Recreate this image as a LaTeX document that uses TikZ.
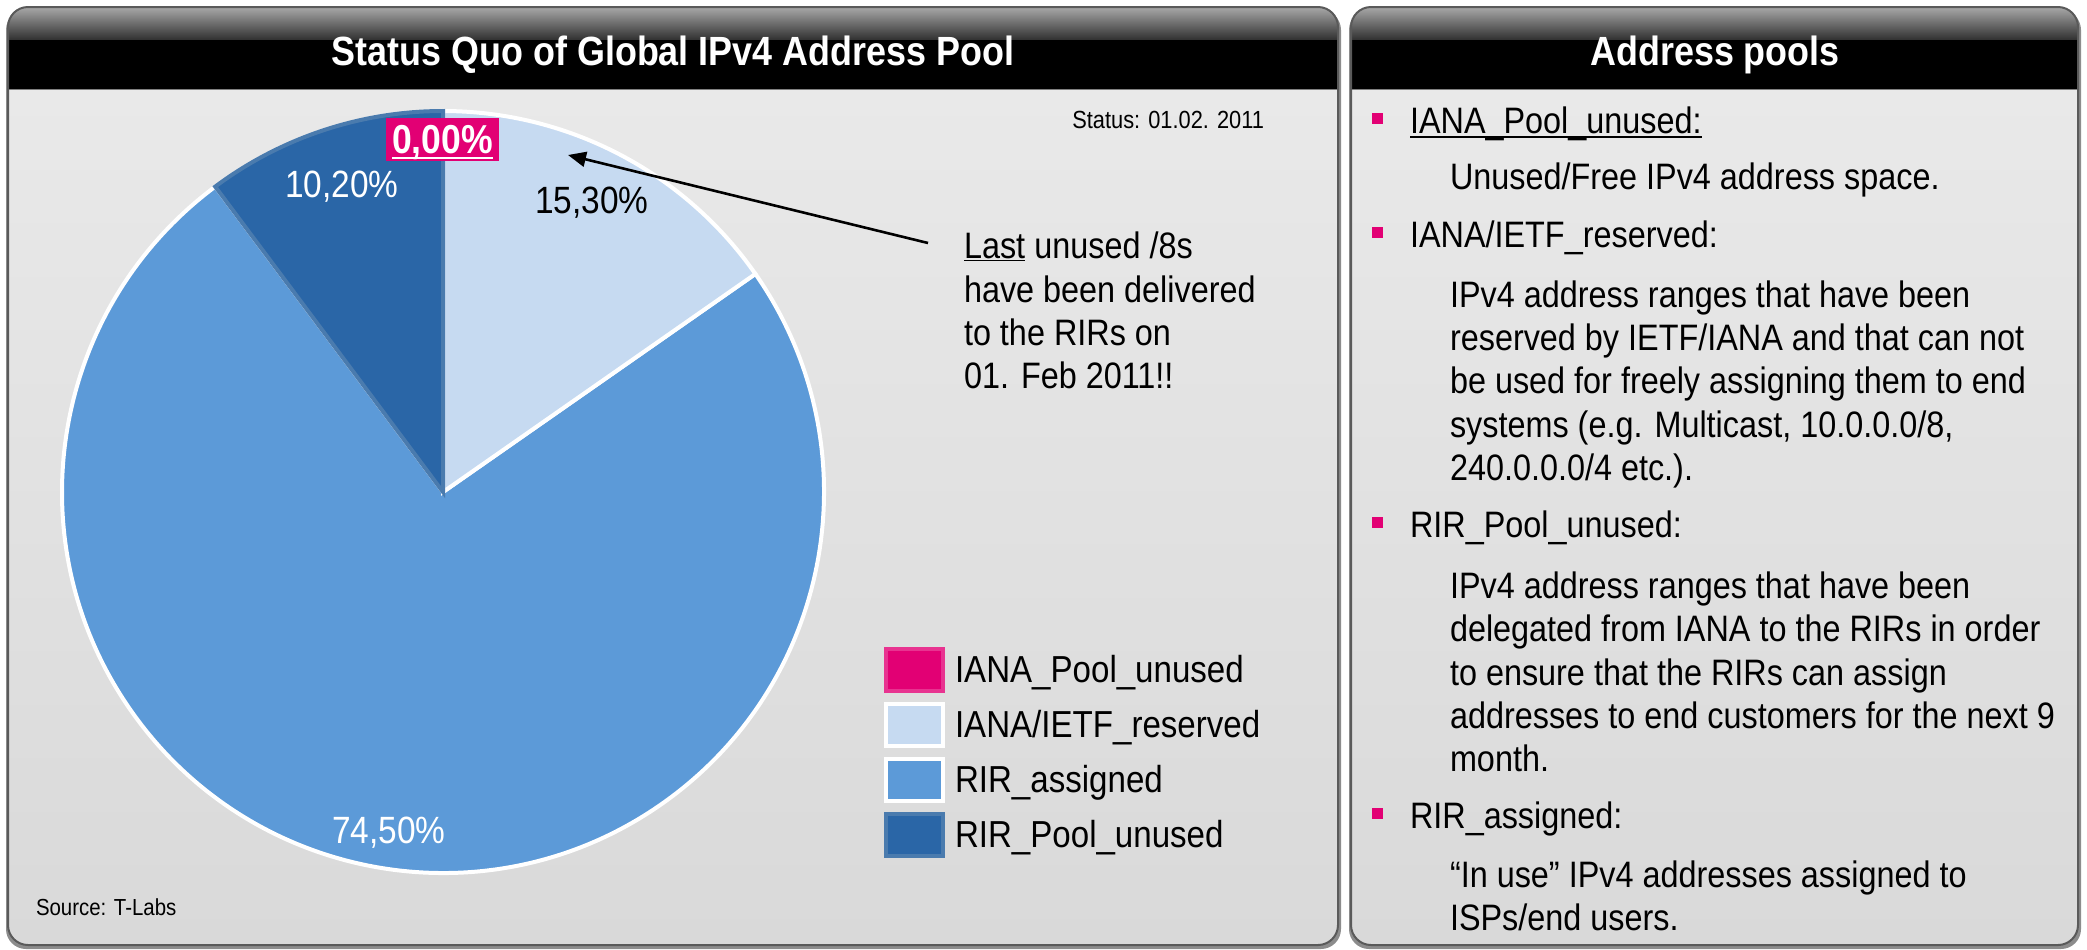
\documentclass[tikz,border=0pt]{standalone}
\usepackage{fontspec}
\setmainfont{Liberation Sans}[FakeStretch=0.88]
\usetikzlibrary{arrows.meta}

\definecolor{tmagenta}{HTML}{E20074}
\definecolor{pielight}{HTML}{C6DAF1}
\definecolor{piemid}{HTML}{5C9AD8}
\definecolor{piedark}{HTML}{2A66A7}
\definecolor{piedarkedge}{HTML}{4A7BAE}
\definecolor{panelframe}{HTML}{5A5A5A}
\definecolor{paneltop}{HTML}{E9E9E9}
\definecolor{panelbottom}{HTML}{D9D9D9}
\definecolor{headlight}{HTML}{A8A8A8}
\definecolor{headdark}{HTML}{303030}
\definecolor{shadowgray}{HTML}{8C8C8C}

\begin{document}
\begin{tikzpicture}[x=0.5pt, y=-0.5pt,
  every node/.style={inner sep=0pt, outer sep=0pt},
  paneltitle/.style={font=\bfseries\fontsize{20.4}{24}\selectfont, text=white, anchor=base},
  body/.style={font=\fontsize{18.4}{22}\selectfont, anchor=base west},
  callfont/.style={font=\fontsize{18.4}{22}\selectfont, anchor=base west},
  pct/.style={font=\fontsize{19}{23}\selectfont, anchor=base},
  legtext/.style={font=\fontsize{18.8}{23}\selectfont, anchor=base west},
  swatch/.style={minimum width=28.5pt, minimum height=21pt, line width=2pt},
  bullet/.style={fill=tmagenta, minimum size=5.5pt},
  frame/.style={draw=panelframe, line width=1pt, rounded corners=10pt},
  shadow/.style={fill=shadowgray, rounded corners=10pt}
]
\useasboundingbox (0,0) rectangle (2087,949);
\fill[white] (0,0) rectangle (2087,949);

% ---------- left panel ----------
\fill[shadow] (6,10) rectangle (1341,949);
\begin{scope}
  \clip[rounded corners=10pt] (8,7) rectangle (1338,945);
  \shade[top color=paneltop, bottom color=panelbottom] (8,89) rectangle (1338,945);
  \shade[top color=headlight, bottom color=headdark] (8,7) rectangle (1338,40);
  \fill[black] (8,40) rectangle (1338,89);
\end{scope}
\draw[gray] (8,89) -- (1338,89);
\draw[frame] (8,7) rectangle (1338,945);
\node[paneltitle] (lefttitle) at (673,65) {Status Quo of Global IPv4 Address Pool};

% ---------- right panel ----------
\fill[shadow] (1349,10) rectangle (2081,949);
\begin{scope}
  \clip[rounded corners=10pt] (1351,7) rectangle (2078,945);
  \shade[top color=paneltop, bottom color=panelbottom] (1351,89) rectangle (2078,945);
  \shade[top color=headlight, bottom color=headdark] (1351,7) rectangle (2078,40);
  \fill[black] (1351,40) rectangle (2078,89);
\end{scope}
\draw[gray] (1351,89) -- (2078,89);
\draw[frame] (1351,7) rectangle (2078,945);
\node[paneltitle] (righttitle) at (1715,65) {Address pools};

% ---------- pie chart ----------
\begin{scope}[shift={(443,492)}, y=0.5pt]
  \filldraw[fill=piemid, draw=white, line width=2pt]
    (0,0) -- (34.92:381) arc[start angle=34.92, end angle=-233.28, radius=381] -- cycle;
  \filldraw[fill=pielight, draw=white, line width=2pt]
    (0,0) -- (90:381) arc[start angle=90, end angle=34.92, radius=381] -- cycle;
  \filldraw[fill=piedark, draw=piedarkedge, line width=2pt]
    (0,0) -- (126.72:381) arc[start angle=126.72, end angle=90, radius=381] -- cycle;
\end{scope}

\node[pct, text=white] (p1020) at (342,197) {10,20\%};
\node[pct] (p1530) at (592,213) {15,30\%};
\node[pct, text=white] (p7450) at (389,843) {74,50\%};

\fill[tmagenta] (386,118) rectangle (499,161);
\node[font=\bfseries\fontsize{20.2}{24}\selectfont, text=white, anchor=base] (p000) at (442.5,153) {0,00\%};
\draw[white, line width=1.3pt] ([yshift=-2.5pt]p000.base west) -- ([yshift=-2.5pt]p000.base east);

% ---------- status / source ----------
\node[font=\fontsize{12.4}{15}\selectfont, anchor=base east] (status) at (1264,128) {Status: 01.02. 2011};
\node[font=\fontsize{11.6}{14}\selectfont, anchor=base west] (source) at (36,915) {Source: T-Labs};

% ---------- callout ----------
\node[callfont] (call1) at (964,258) {Last};
\node[callfont] (call1b) at ([xshift=4.6pt]call1.base east) {unused /8s};
\draw[line width=0.8pt] ([yshift=-1.2pt]call1.base west) -- ([yshift=-1.2pt]call1.base east);
\node[callfont] (call2) at (964,302) {have been delivered};
\node[callfont] (call3) at (964,345) {to the RIRs on};
\node[callfont] (call4) at (964,388) {01. Feb 2011!!};
\coordinate (arrowtail) at (928,243);
\coordinate (arrowtip) at (568,155);
\draw[line width=1.3pt, -{Triangle[length=9pt, width=7.5pt]}] (arrowtail) -- (arrowtip);

% ---------- legend ----------
\node[swatch, fill=tmagenta, draw=tmagenta!80!white] (sw1) at (914.5,670) {};
\node[swatch, fill=pielight, draw=white] (sw2) at (914.5,725) {};
\node[swatch, fill=piemid, draw=white] (sw3) at (914.5,780) {};
\node[swatch, fill=piedark, draw=piedarkedge] (sw4) at (914.5,835) {};
\node[legtext] (lg1) at (955,682) {IANA\_Pool\_unused};
\node[legtext] (lg2) at (955,737) {IANA/IETF\_reserved};
\node[legtext] (lg3) at (955,792) {RIR\_assigned};
\node[legtext] (lg4) at (955,847) {RIR\_Pool\_unused};

% ---------- address pool descriptions ----------
\node[bullet] (bul1) at (1377.5,118) {};
\node[body] (head1) at (1410,133) {IANA\_Pool\_unused:};
\draw[line width=0.8pt] ([yshift=-2pt]head1.base west) -- ([yshift=-2pt]head1.base east);
\node[body] (d1) at (1450,189) {Unused/Free IPv4 address space.};

\node[bullet] (bul2) at (1377.5,232) {};
\node[body] (head2) at (1410,247) {IANA/IETF\_reserved:};
\node[body] (d2) at (1450,307) {IPv4 address ranges that have been};
\node[body] (d3) at (1450,350) {reserved by IETF/IANA and that can not};
\node[body] (d4) at (1450,393.5) {be used for freely assigning them to end};
\node[body] (d5) at (1450,437) {systems (e.g. Multicast, 10.0.0.0/8,};
\node[body] (d6) at (1450,480) {240.0.0.0/4 etc.).};

\node[bullet] (bul3) at (1377.5,522) {};
\node[body] (head3) at (1410,537) {RIR\_Pool\_unused:};
\node[body] (d7) at (1450,598) {IPv4 address ranges that have been};
\node[body] (d8) at (1450,641.5) {delegated from IANA to the RIRs in order};
\node[body] (d9) at (1450,685) {to ensure that the RIRs can assign};
\node[body] (d10) at (1450,728) {addresses to end customers for the next 9};
\node[body] (d11) at (1450,771) {month.};

\node[bullet] (bul4) at (1377.5,813) {};
\node[body] (head4) at (1410,828) {RIR\_assigned:};
\node[body] (d12) at (1450,887) {“In use” IPv4 addresses assigned to};
\node[body] (d13) at (1450,930) {ISPs/end users.};
\end{tikzpicture}
\end{document}
